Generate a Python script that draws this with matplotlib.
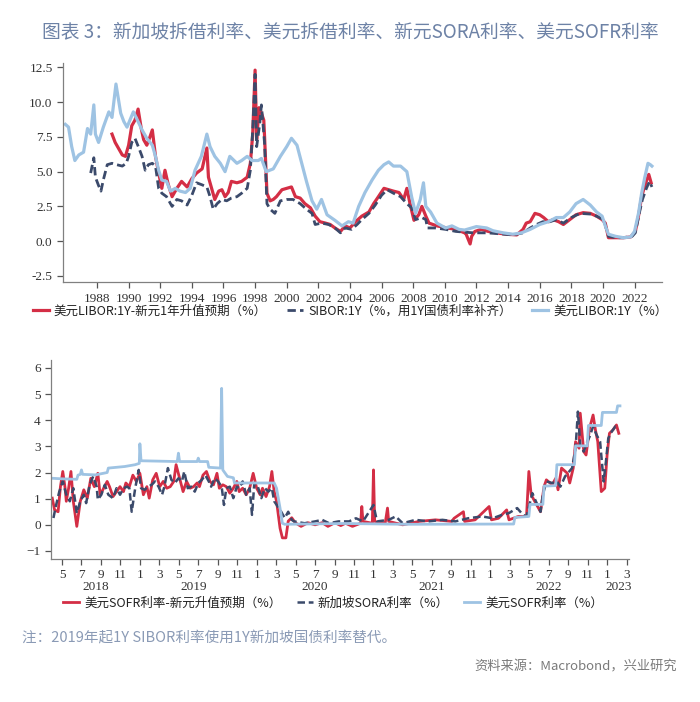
import numpy as np
import matplotlib
matplotlib.use("Agg")
from matplotlib import pyplot as plt

plt.rcParams['font.family'] = ['Noto Sans CJK SC', 'DejaVu Sans']

RED = '#d42e45'
NAVY = '#3b4a6b'
LBLUE = '#9ec3e3'

# ---- top chart: decimal years / % ----
libor_x = [1986.0, 1986.2, 1986.4, 1986.6, 1986.85, 1987.15, 1987.4, 1987.6, 1987.8, 1987.9,
           1988.1, 1988.4, 1988.75, 1988.95, 1989.2, 1989.5, 1989.7, 1989.9, 1990.3, 1990.6,
           1990.85, 1991.15, 1991.5, 1991.7, 1991.9, 1992.1, 1992.4, 1992.65, 1992.95, 1993.25,
           1993.6, 1993.9, 1994.2, 1994.6, 1994.95, 1995.15, 1995.45, 1995.8, 1996.1, 1996.4,
           1996.85, 1997.15, 1997.5, 1997.8, 1998.2, 1998.4, 1998.7, 1999.15, 1999.6, 2000.0,
           2000.3, 2000.65, 2000.95, 2001.25, 2001.6, 2001.9, 2002.2, 2002.55, 2003.05, 2003.5,
           2003.9, 2004.2, 2004.55, 2004.95, 2005.4, 2005.8, 2006.15, 2006.45, 2006.75, 2007.2,
           2007.6, 2007.9, 2008.15, 2008.45, 2008.65, 2008.8, 2009.1, 2009.5, 2010.05, 2010.45,
           2010.9, 2011.25, 2011.7, 2012.0, 2012.65, 2013.05, 2013.7, 2014.3, 2014.85, 2015.4,
           2016.0, 2016.55, 2017.05, 2017.5, 2017.9, 2018.3, 2018.75, 2019.2, 2019.6, 2019.95,
           2020.15, 2020.35, 2020.8, 2021.3, 2021.75, 2022.0, 2022.25, 2022.45, 2022.65, 2022.85,
           2023.0, 2023.1]
libor_y = [8.4, 8.2, 6.8, 5.8, 6.2, 6.4, 8.1, 7.7, 9.8, 7.7,
           7.1, 8.2, 9.3, 8.9, 11.3, 9.2, 8.6, 8.2, 9.3, 8.6,
           8.0, 7.4, 6.9, 6.1, 5.1, 4.4, 4.3, 3.6, 3.8, 3.6,
           3.5, 3.8, 5.1, 6.1, 7.7, 6.8, 6.1, 5.6, 5.0, 6.1,
           5.6, 5.8, 6.1, 5.8, 5.8, 5.95, 5.0, 5.2, 6.1, 6.8,
           7.4, 6.9, 5.6, 4.3, 2.9, 2.3, 3.0, 1.9, 1.5, 1.1,
           1.4, 1.3, 2.5, 3.5, 4.4, 5.1, 5.5, 5.7, 5.4, 5.4,
           5.0, 3.2, 2.0, 3.0, 4.2, 2.5, 2.1, 1.3, 0.95, 1.1,
           0.85, 0.8, 0.95, 1.05, 0.95, 0.75, 0.6, 0.5, 0.6, 0.85,
           1.2, 1.4, 1.7, 1.7, 2.1, 2.7, 3.0, 2.6, 2.1, 1.8,
           1.1, 0.5, 0.35, 0.25, 0.3, 0.7, 2.0, 3.45, 4.6, 5.6,
           5.5, 5.4]

spread_x = [1988.95, 1989.15, 1989.35, 1989.6, 1989.8, 1990.0, 1990.2, 1990.4, 1990.6, 1990.8,
            1990.95, 1991.15, 1991.35, 1991.5, 1991.7, 1991.9, 1992.1, 1992.3, 1992.5, 1992.75,
            1993.05, 1993.35, 1993.7, 1994.0, 1994.3, 1994.65, 1994.95, 1995.05, 1995.25, 1995.45,
            1995.7, 1995.9, 1996.1, 1996.3, 1996.5, 1996.85, 1997.15, 1997.5, 1997.7, 1997.85,
            1998.0, 1998.1, 1998.25, 1998.4, 1998.55, 1998.6, 1998.75, 1998.95, 1999.15, 1999.35,
            1999.7, 2000.0, 2000.3, 2000.55, 2000.85, 2001.15, 2001.5, 2001.8, 2002.1, 2002.45,
            2002.75, 2003.05, 2003.4, 2003.7, 2004.0, 2004.35, 2004.75, 2005.2, 2005.5, 2005.8,
            2006.15, 2006.45, 2006.75, 2007.1, 2007.4, 2007.6, 2007.8, 2008.05, 2008.35, 2008.55,
            2008.8, 2009.0, 2009.5, 2010.15, 2010.7, 2011.25, 2011.35, 2011.6, 2011.7, 2011.9,
            2012.3, 2012.75, 2013.25, 2013.9, 2014.55, 2014.95, 2015.15, 2015.4, 2015.7, 2016.0,
            2016.25, 2016.55, 2016.85, 2017.2, 2017.5, 2017.9, 2018.3, 2018.75, 2019.2, 2019.6,
            2019.95, 2020.15, 2020.35, 2020.8, 2021.3, 2021.75, 2022.05, 2022.25, 2022.45, 2022.65,
            2022.9, 2023.05]
spread_y = [7.7, 7.1, 6.7, 6.2, 6.1, 6.9, 8.3, 8.7, 9.5, 8.1,
            7.3, 6.9, 7.5, 8.0, 6.1, 4.9, 3.8, 5.1, 4.1, 3.2,
            3.8, 4.3, 3.9, 4.5, 4.9, 5.2, 6.7, 4.6, 3.8, 3.0,
            3.6, 3.7, 3.2, 3.5, 4.3, 4.2, 4.3, 4.6, 5.6, 7.7,
            12.3, 7.3, 9.6, 9.2, 8.7, 7.5, 3.45, 2.9, 3.0, 3.2,
            3.7, 3.8, 3.9, 3.2, 3.1, 2.7, 2.4, 1.8, 1.4, 1.3,
            1.2, 0.95, 0.7, 1.1, 0.95, 1.4, 1.8, 2.1, 2.7, 3.2,
            3.8, 3.7, 3.6, 3.5, 3.0, 3.8, 2.7, 1.5, 1.9, 2.5,
            1.8, 1.3, 1.1, 0.95, 0.85, 0.6, 0.5, -0.2, 0.35, 0.7,
            0.85, 0.7, 0.6, 0.5, 0.45, 0.85, 1.3, 1.4, 2.0, 1.9,
            1.7, 1.4, 1.55, 1.4, 1.2, 1.55, 1.9, 2.05, 2.0, 1.8,
            1.55, 1.3, 0.25, 0.25, 0.25, 0.3, 0.7, 1.8, 3.2, 4.0,
            4.8, 4.2]

sibor_x = [1987.6, 1987.8, 1987.9, 1988.1, 1988.25, 1988.4, 1988.65, 1988.95, 1989.25, 1989.6,
           1989.85, 1990.0, 1990.2, 1990.4, 1990.65, 1990.85, 1991.05, 1991.25, 1991.5, 1991.7,
           1991.9, 1992.1, 1992.4, 1992.75, 1993.05, 1993.35, 1993.7, 1994.0, 1994.3, 1994.65,
           1994.95, 1995.15, 1995.35, 1995.6, 1995.9, 1996.2, 1996.5, 1996.85, 1997.15, 1997.5,
           1997.7, 1997.85, 1998.0, 1998.1, 1998.3, 1998.4, 1998.6, 1998.75, 1998.95, 1999.25,
           1999.6, 2000.0, 2000.4, 2000.85, 2001.25, 2001.6, 2001.8, 2002.2, 2002.65, 2003.05,
           2003.4, 2003.7, 2004.1, 2004.45, 2004.75, 2005.2, 2005.6, 2006.0, 2006.35, 2006.75,
           2007.2, 2007.6, 2007.9, 2008.15, 2008.55, 2008.8, 2008.9, 2009.4, 2010.05, 2010.7,
           2011.25, 2011.8, 2012.65, 2013.25, 2014.3, 2014.95, 2015.4, 2015.8, 2016.2, 2016.65,
           2017.05, 2017.5, 2018.0, 2018.55, 2019.2, 2019.6, 2020.05, 2020.35, 2020.8, 2021.3,
           2021.85, 2022.05, 2022.3, 2022.5, 2022.75, 2022.95, 2023.1]
sibor_y = [4.9, 6.0, 4.6, 4.0, 3.6, 4.4, 5.5, 5.6, 5.5, 5.4,
           5.6, 6.1, 7.1, 7.4, 6.7, 6.1, 5.1, 5.5, 5.6, 5.4,
           3.8, 3.45, 3.2, 2.5, 3.0, 2.9, 2.6, 3.3, 4.2, 4.05,
           3.9, 3.2, 2.3, 2.7, 3.0, 2.9, 3.1, 3.2, 3.45, 3.8,
           5.1, 8.0, 12.0, 6.8, 8.5, 9.8, 7.0, 2.7, 2.3, 2.0,
           2.9, 3.0, 3.0, 2.7, 2.3, 2.0, 1.2, 1.3, 1.2, 0.95,
           0.6, 0.95, 0.85, 1.2, 1.55, 2.0, 2.6, 3.3, 3.7, 3.45,
           3.2, 2.7, 2.4, 1.55, 1.7, 1.55, 0.95, 0.95, 0.85, 0.7,
           0.65, 0.6, 0.6, 0.55, 0.45, 0.6, 0.95, 1.2, 1.4, 1.4,
           1.55, 1.3, 1.7, 2.0, 1.95, 1.8, 1.55, 0.35, 0.25, 0.25,
           0.35, 0.6, 2.0, 3.0, 3.8, 4.3, 3.9]

top_years = list(range(1988, 2023, 2))

# ---- bottom chart: decimal years / % ----
sofr_x = [2018.25, 2018.33, 2018.46, 2018.47, 2018.49, 2018.50, 2018.51, 2018.62, 2018.72, 2018.73,
          2018.87, 2018.96, 2018.995, 2019.0, 2019.01, 2019.32, 2019.33, 2019.34, 2019.49, 2019.50,
          2019.51, 2019.58, 2019.59, 2019.69, 2019.70, 2019.71, 2019.75, 2019.80, 2019.81, 2020.15,
          2020.17, 2020.2, 2020.22, 2020.24, 2020.75, 2021.27, 2022.20, 2022.21, 2022.33, 2022.34,
          2022.45, 2022.46, 2022.56, 2022.57, 2022.72, 2022.73, 2022.83, 2022.84, 2022.95, 2022.96,
          2023.08, 2023.09, 2023.11]
sofr_y = [1.78, 1.76, 1.74, 1.9, 1.93, 2.1, 1.93, 1.91, 2.0, 2.17,
          2.23, 2.3, 2.35, 3.1, 2.45, 2.42, 2.74, 2.42, 2.42, 2.55,
          2.42, 2.42, 2.2, 2.17, 5.22, 2.1, 1.85, 1.8, 1.6, 1.6,
          1.4, 0.64, 0.06, 0.02, 0.05, 0.02, 0.03, 0.28, 0.32, 0.78,
          0.78, 1.48, 1.5, 2.3, 2.3, 3.02, 3.02, 3.8, 3.8, 4.3,
          4.3, 4.55, 4.55]

sgdexp_x = [2018.25, 2018.27, 2018.3, 2018.32, 2018.34, 2018.36, 2018.37, 2018.39, 2018.41, 2018.43,
            2018.46, 2018.49, 2018.52, 2018.55, 2018.58, 2018.61, 2018.64, 2018.66, 2018.69, 2018.72,
            2018.74, 2018.77, 2018.8, 2018.83, 2018.86, 2018.88, 2018.91, 2018.94, 2018.97, 2019.0,
            2019.03, 2019.06, 2019.08, 2019.11, 2019.14, 2019.17, 2019.2, 2019.23, 2019.26, 2019.29,
            2019.31, 2019.34, 2019.37, 2019.4, 2019.43, 2019.46, 2019.49, 2019.51, 2019.54, 2019.57,
            2019.6, 2019.63, 2019.66, 2019.68, 2019.71, 2019.74, 2019.77, 2019.8, 2019.83, 2019.85,
            2019.88, 2019.91, 2019.94, 2019.97, 2020.0, 2020.03, 2020.05, 2020.08, 2020.11, 2020.13,
            2020.15, 2020.17, 2020.2, 2020.22, 2020.25, 2020.27, 2020.3, 2020.33, 2020.38, 2020.44,
            2020.5, 2020.56, 2020.61, 2020.67, 2020.72, 2020.76, 2020.82, 2020.89, 2020.9, 2020.91,
            2020.99, 2021.0, 2021.01, 2021.1, 2021.12, 2021.13, 2021.25, 2021.39, 2021.53, 2021.67,
            2021.69, 2021.77, 2021.78, 2021.87, 2021.99, 2022.01, 2022.07, 2022.14, 2022.16, 2022.24,
            2022.31, 2022.33, 2022.35, 2022.38, 2022.43, 2022.46, 2022.48, 2022.53, 2022.56, 2022.58,
            2022.61, 2022.66, 2022.68, 2022.71, 2022.73, 2022.76, 2022.77, 2022.8, 2022.82, 2022.85,
            2022.88, 2022.9, 2022.92, 2022.95, 2022.98, 2023.0, 2023.02, 2023.05, 2023.08, 2023.1]
sgdexp_y = [1.02, 0.57, 0.5, 1.46, 2.04, 1.4, 0.9, 1.4, 2.04, 0.9,
            -0.06, 0.9, 1.34, 1.02, 1.78, 1.46, 1.97, 1.15, 1.4, 1.66,
            1.46, 1.08, 1.27, 1.46, 1.27, 1.6, 1.46, 1.9, 1.66, 1.97,
            1.15, 1.46, 1.02, 1.72, 1.97, 1.46, 1.66, 1.4, 1.46, 1.66,
            2.3, 1.78, 1.27, 1.66, 1.4, 1.46, 1.6, 1.46, 1.9, 2.04,
            1.66, 1.53, 1.97, 1.4, 1.53, 1.46, 1.21, 1.4, 1.66, 1.27,
            1.4, 1.15, 1.4, 1.97, 1.4, 1.15, 1.4, 1.08, 1.46, 2.04,
            1.27, 0.9, -0.13, -0.5, -0.5, 0.14, 0.27, 0.08, -0.06, 0.08,
            0.0, 0.08, -0.06, 0.08, -0.03, 0.06, -0.06, 0.06, 0.7, 0.13,
            0.06, 2.1, 0.13, 0.06, 0.64, 0.13, 0.0, 0.13, 0.19, 0.13,
            0.25, 0.5, 0.13, 0.19, 0.7, 0.19, 0.25, 0.57, 0.19, 0.32,
            0.32, 2.04, 1.15, 0.9, 0.5, 1.46, 1.72, 1.53, 1.78, 1.34,
            2.17, 1.97, 1.6, 2.17, 3.18, 2.93, 4.27, 2.8, 2.67, 3.7,
            4.2, 3.63, 3.18, 1.27, 1.4, 2.67, 3.5, 3.63, 3.82, 3.5]

sora_x = [2018.26, 2018.28, 2018.31, 2018.34, 2018.37, 2018.4, 2018.43, 2018.46, 2018.49, 2018.52,
          2018.54, 2018.57, 2018.6, 2018.63, 2018.64, 2018.67, 2018.7, 2018.73, 2018.77, 2018.8,
          2018.83, 2018.86, 2018.89, 2018.91, 2018.93, 2018.96, 2018.99, 2019.01, 2019.04, 2019.07,
          2019.1, 2019.13, 2019.16, 2019.19, 2019.21, 2019.24, 2019.27, 2019.3, 2019.33, 2019.36,
          2019.38, 2019.41, 2019.44, 2019.47, 2019.5, 2019.53, 2019.56, 2019.59, 2019.61, 2019.64,
          2019.67, 2019.7, 2019.72, 2019.74, 2019.77, 2019.8, 2019.83, 2019.85, 2019.88, 2019.91,
          2019.94, 2019.96, 2019.98, 2020.01, 2020.04, 2020.07, 2020.1, 2020.13, 2020.15, 2020.18,
          2020.21, 2020.24, 2020.27, 2020.3, 2020.32, 2020.41, 2020.5, 2020.56, 2020.62, 2020.7,
          2020.79, 2020.85, 2020.91, 2021.0, 2021.03, 2021.13, 2021.19, 2021.25, 2021.36, 2021.47,
          2021.59, 2021.7, 2021.81, 2021.93, 2022.02, 2022.1, 2022.16, 2022.23, 2022.28, 2022.31,
          2022.36, 2022.39, 2022.43, 2022.45, 2022.48, 2022.53, 2022.57, 2022.6, 2022.64, 2022.7,
          2022.73, 2022.75, 2022.77, 2022.8, 2022.83, 2022.85, 2022.88, 2022.91, 2022.94, 2022.97,
          2022.99, 2023.01, 2023.04, 2023.07, 2023.09]
sora_y = [0.26, 0.7, 1.27, 1.66, 1.15, 0.9, 1.4, 0.45, 0.9, 1.15,
          0.83, 1.53, 1.85, 1.46, 0.96, 1.15, 1.53, 1.15, 1.02, 1.4,
          1.15, 1.4, 1.46, 1.4, 0.5, 1.4, 2.1, 1.4, 1.34, 1.46,
          1.53, 1.66, 1.46, 1.15, 1.46, 2.17, 1.72, 1.6, 1.78, 1.66,
          2.04, 1.4, 1.46, 1.27, 1.6, 1.72, 1.9, 1.66, 1.46, 1.78,
          1.66, 1.46, 0.76, 1.4, 1.46, 1.02, 1.46, 1.4, 1.66, 1.15,
          1.4, 0.38, 1.6, 1.46, 1.02, 1.4, 1.27, 1.4, 0.9, 0.7,
          0.5, 0.26, 0.5, 0.19, 0.13, 0.06, 0.13, 0.19, 0.06, 0.13,
          0.13, 0.25, 0.13, 0.76, 0.13, 0.19, 0.32, 0.06, 0.19, 0.13,
          0.19, 0.13, 0.25, 0.32, 0.25, 0.38, 0.45, 0.64, 0.38, 0.32,
          1.21, 0.9, 0.5, 1.15, 1.66, 1.6, 1.66, 1.46, 1.85, 2.17,
          2.93, 4.33, 3.06, 2.8, 3.18, 3.37, 3.76, 3.44, 3.18, 1.66,
          2.42, 3.31, 3.57, 3.76, 3.63]

month_ticks = [(y, m) for y in range(2018, 2024) for m in (1, 3, 5, 7, 9, 11)
               if 2018 + 3 / 12 < y + (m - 1) / 12 < 2023.2]
year_label_pos = {'2018': 2018.62, '2019': 2019.46, '2020': 2020.5,
                  '2021': 2021.5, '2022': 2022.5, '2023': 2023.1}


def style_axes(ax):
    for s in ('top', 'right'):
        ax.spines[s].set_visible(False)
    for s in ('left', 'bottom'):
        ax.spines[s].set_color('#808080')
        ax.spines[s].set_linewidth(0.9)
    ax.tick_params(direction='out', length=4, width=0.9, color='#555555',
                   labelsize=9.5, labelcolor='#333333')
    for lab in ax.get_xticklabels() + ax.get_yticklabels():
        lab.set_fontfamily('Liberation Serif')


fig = plt.figure(figsize=(7.0, 7.02), dpi=100)

fig.text(0.5, 0.955, '图表 3：新加坡拆借利率、美元拆借利率、新元SORA利率、美元SOFR利率',
         ha='center', va='center', fontsize=13.5, color='#6d82a6', fontweight='medium')

# top chart
ax1 = fig.add_axes([0.09, 0.598, 0.856, 0.312])
ax1.plot(spread_x, spread_y, color=RED, lw=2.3, label='美元LIBOR:1Y-新元1年升值预期（%）')
ax1.plot(sibor_x, sibor_y, color=NAVY, lw=2.0, ls=(0, (3, 1.5)), label='SIBOR:1Y（%，用1Y国债利率补齐）')
ax1.plot(libor_x, libor_y, color=LBLUE, lw=2.3, label='美元LIBOR:1Y（%）')
ax1.set_xlim(1985.85, 2023.75)
ax1.set_ylim(-2.95, 12.8)
ax1.set_yticks(np.arange(-2.5, 12.6, 2.5))
ax1.set_yticklabels(['%.1f' % v for v in np.arange(-2.5, 12.6, 2.5)])
ax1.set_xticks(top_years)
ax1.set_xticklabels([str(y) for y in top_years])
style_axes(ax1)
ax1.legend(loc='center', bbox_to_anchor=(0.5, 1 - 311 / 702), bbox_transform=fig.transFigure,
           ncol=3, frameon=False, fontsize=9, handlelength=1.3, columnspacing=1.6,
           handletextpad=0.4, labelcolor='#222222')

# bottom chart
ax2 = fig.add_axes([0.073, 0.204, 0.826, 0.283])
ax2.plot(sgdexp_x, sgdexp_y, color=RED, lw=2.0, label='美元SOFR利率-新元升值预期（%）')
ax2.plot(sora_x, sora_y, color=NAVY, lw=1.8, ls=(0, (3, 1.5)), label='新加坡SORA利率（%）')
ax2.plot(sofr_x, sofr_y, color=LBLUE, lw=2.0, label='美元SOFR利率（%）')
ax2.set_xlim(2018.24, 2023.19)
ax2.set_ylim(-1.3, 6.3)
ax2.set_yticks(range(-1, 7))
ax2.set_xticks([y + (m - 1) / 12 for y, m in month_ticks])
ax2.set_xticklabels([str(m) for y, m in month_ticks])
style_axes(ax2)
for lab, xpos in year_label_pos.items():
    ax2.text(xpos, -0.11, lab, transform=ax2.get_xaxis_transform(), ha='center', va='top',
             fontsize=9.5, color='#333333', fontfamily='Liberation Serif')
ax2.legend(loc='center', bbox_to_anchor=(0.476, 1 - 603 / 702), bbox_transform=fig.transFigure,
           ncol=3, frameon=False, fontsize=9, handlelength=1.3, columnspacing=1.2,
           handletextpad=0.4, labelcolor='#222222')

fig.text(22 / 700, 1 - 638 / 702, '注：2019年起1Y SIBOR利率使用1Y新加坡国债利率替代。',
         ha='left', va='center', fontsize=10.5, color='#8a9ab5')
fig.text(677 / 700, 1 - 667 / 702, '资料来源：Macrobond，兴业研究',
         ha='right', va='center', fontsize=9.5, color='#7a7a7a')

fig.savefig('out.png', dpi=100)
